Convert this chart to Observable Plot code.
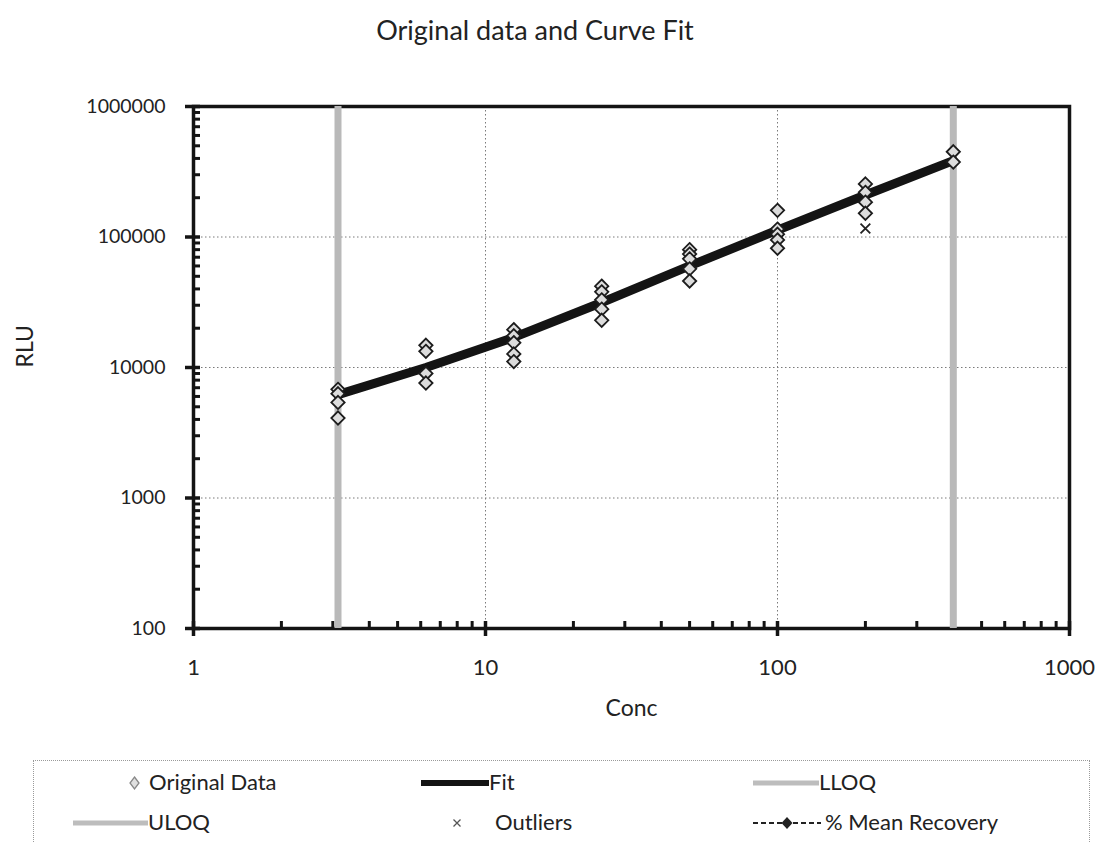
<!DOCTYPE html>
<html>
<head>
<meta charset="utf-8">
<script src="https://cdn.jsdelivr.net/npm/d3@7"></script>
<script src="https://cdn.jsdelivr.net/npm/@observablehq/plot@0.6"></script>
<style>
  html, body { margin: 0; padding: 0; background: #fff; }
  body { font-family: Lato, "Open Sans", sans-serif; color: #222; }
  #wrap { position: relative; width: 1104px; height: 842px; overflow: hidden; }
  #title { height: 60px; line-height: 60px; text-align: center; font-size: 27px; padding-right: 34px; color: #222; }
  #chart svg { display: block; }
  #legend { position: absolute; left: 33px; top: 760px; width: 1055px; height: 120px; border: 1.5px dotted #9a9a9a; }
  .lt { position: absolute; font-size: 22px; line-height: 26px; white-space: nowrap; color: #222; }
  .sw { position: absolute; overflow: visible; }
</style>
</head>
<body>
<div id="wrap">
  <div id="title">Original data and Curve Fit</div>
  <div id="chart"></div>
  <div id="legend"></div>
</div>
<script>
// ---- data ----
const concentrations = [3.125, 6.25, 12.5, 25, 50, 100, 200, 400];
const rluReplicates = [
  [6800, 6300, 5400, 4100],
  [14800, 13300, 9000, 7600],
  [19500, 17500, 15500, 12700, 11100],
  [42000, 38000, 33000, 28000, 23000],
  [80000, 74000, 68000, 57000, 46000],
  [160000, 115000, 105000, 95000, 82000],
  [255000, 220000, 185000, 152000],
  [450000, 375000]
];
const fitRLU = [6200, 10000, 17000, 31500, 60000, 113000, 210000, 385000];
const outlierConc = [200];
const outlierRLU = [116000];
const lloqConc = [3.125];
const uloqConc = [400];

// ---- axis ticks ----
const xMajorTicks = [1, 10, 100, 1000];
const yMajorTicks = [100, 1000, 10000, 100000, 1000000];
const xGrid = [10, 100];
const yGrid = [1000, 10000, 100000];
const minorMultipliers = [2, 3, 4, 5, 6, 7, 8, 9];
const xMinorTicks = xMajorTicks.slice(0, -1).flatMap(d => minorMultipliers.map(m => d * m));
const yMinorTicks = yMajorTicks.slice(0, -1).flatMap(d => minorMultipliers.map(m => d * m));

// ---- tables built from the arrays ----
const original = concentrations.flatMap((c, i) => rluReplicates[i].map(v => ({conc: c, rlu: v})));
const fit = concentrations.map((c, i) => ({conc: c, rlu: fitRLU[i]}));
const outliers = outlierConc.map((c, i) => ({conc: c, rlu: outlierRLU[i]}));

const W = 1104, H = 690, mt = 46, mb = 122, ml = 193, mr = 35;
const plotW = W - ml - mr, plotH = H - mt - mb;
const ink = "#141414";

const chart = Plot.plot({
  width: W, height: H,
  marginTop: mt, marginBottom: mb, marginLeft: ml, marginRight: mr,
  style: {fontFamily: "Lato, 'Open Sans', sans-serif", fontSize: "19px", color: "#222", background: "#fff"},
  x: {type: "log", domain: [1, 1000]},
  y: {type: "log", domain: [100, 1000000]},
  marks: [
    Plot.ruleX(xGrid, {x: d => d, stroke: "#7a7a7a", strokeWidth: 1, strokeDasharray: "1.5,2.5"}),
    Plot.ruleY(yGrid, {y: d => d, stroke: "#7a7a7a", strokeWidth: 1, strokeDasharray: "1.5,2.5"}),
    Plot.frame({stroke: ink, strokeWidth: 3.5}),
    Plot.tickX(xMinorTicks, {x: d => d, insetTop: plotH - 7, stroke: ink, strokeWidth: 3}),
    Plot.tickX(xMajorTicks, {x: d => d, insetTop: plotH - 7, insetBottom: -8, stroke: ink, strokeWidth: 3.5}),
    Plot.tickY(yMinorTicks, {y: d => d, insetRight: plotW - 7, stroke: ink, strokeWidth: 3}),
    Plot.tickY(yMajorTicks, {y: d => d, insetRight: plotW - 7, insetLeft: -8, stroke: ink, strokeWidth: 3.5}),
    Plot.ruleX(lloqConc, {x: d => d, stroke: "#b9b9b9", strokeWidth: 7}),
    Plot.ruleX(uloqConc, {x: d => d, stroke: "#b9b9b9", strokeWidth: 7}),
    Plot.line(fit, {x: "conc", y: "rlu", stroke: ink, strokeWidth: 9}),
    Plot.dot(original, {x: "conc", y: "rlu", symbol: "diamond2", r: 6, fill: "#dcdcdc", stroke: "#1c1c1c", strokeWidth: 1.8}),
    Plot.dot(outliers, {x: "conc", y: "rlu", symbol: "times", r: 4.5, stroke: "#222", strokeWidth: 1.8}),
    Plot.axisX(xMajorTicks, {tickSize: 0, tickPadding: 31, fontSize: 22, tickFormat: d => String(d), label: null}),
    Plot.axisY(yMajorTicks, {tickSize: 0, tickPadding: 28, fontSize: 19.5, tickFormat: d => String(d), label: null}),
    Plot.text(["Conc"], {frameAnchor: "bottom", dy: 87, fontSize: 23, fill: "#222"}),
    Plot.text(["RLU"], {frameAnchor: "left", dx: -168, rotate: -90, fontSize: 23, fill: "#222"})
  ]
});
document.getElementById("chart").appendChild(chart);

// ---- legend ----
const legend = document.getElementById("legend");
const LX = 33, LY = 760;
function addText(x, yc, txt) {
  const s = document.createElement("span");
  s.className = "lt";
  s.textContent = txt;
  s.style.left = (x - LX) + "px";
  s.style.top = (yc - LY - 14) + "px";
  legend.appendChild(s);
}
function addSwatch(x1, x2, yc, inner) {
  const ns = "http://www.w3.org/2000/svg";
  const svg = document.createElementNS(ns, "svg");
  svg.setAttribute("class", "sw");
  svg.setAttribute("width", x2 - x1);
  svg.setAttribute("height", 20);
  svg.style.left = (x1 - LX) + "px";
  svg.style.top = (yc - LY - 10) + "px";
  svg.innerHTML = inner;
  legend.appendChild(svg);
}
const legendItems = ["Original Data", "Fit", "LLOQ", "ULOQ", "Outliers", "% Mean Recovery"];
// Original Data
addSwatch(126, 141, 782, '<path d="M7.5,4 L12,10 L7.5,16 L3,10 Z" fill="#e0e0e0" stroke="#888" stroke-width="1.3"/>');
addText(148, 782, legendItems[0]);
// Fit
addSwatch(420, 488, 782, '<line x1="0" y1="10" x2="68" y2="10" stroke="#141414" stroke-width="6"/>');
addText(488, 782, legendItems[1]);
// LLOQ
addSwatch(752, 818, 782, '<line x1="0" y1="10" x2="66" y2="10" stroke="#bdbdbd" stroke-width="5"/>');
addText(818, 782, legendItems[2]);
// ULOQ
addSwatch(72, 147, 822, '<line x1="0" y1="10" x2="75" y2="10" stroke="#bdbdbd" stroke-width="5"/>');
addText(147, 822, legendItems[3]);
// Outliers
addSwatch(450, 462, 822, '<path d="M2.5,6.5 L9.5,13.5 M9.5,6.5 L2.5,13.5" stroke="#555" stroke-width="1.3"/>');
addText(494, 822, legendItems[4]);
// % Mean Recovery
addSwatch(752, 820, 822, '<line x1="0" y1="10" x2="68" y2="10" stroke="#222" stroke-width="2" stroke-dasharray="5,3"/><path d="M34,4 L39.5,10 L34,16 L28.5,10 Z" fill="#222"/>');
addText(824, 822, legendItems[5]);
</script>
</body>
</html>
